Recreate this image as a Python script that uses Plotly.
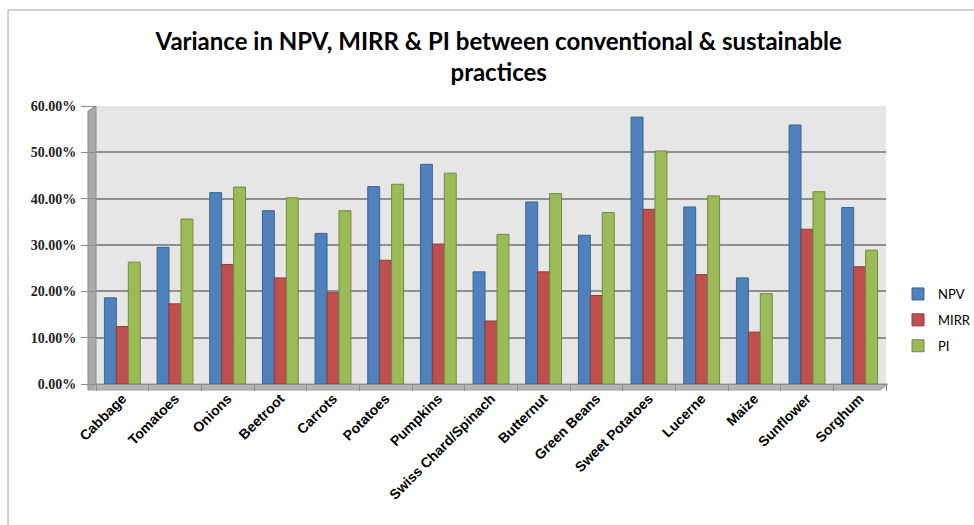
import plotly.graph_objects as go

categories = ["Cabbage", "Tomatoes", "Onions", "Beetroot", "Carrots", "Potatoes",
              "Pumpkins", "Swiss Chard/Spinach", "Butternut", "Green Beans",
              "Sweet Potatoes", "Lucerne", "Maize", "Sunflower", "Sorghum"]
npv = [0.186, 0.295, 0.413, 0.374, 0.325, 0.426, 0.474, 0.242, 0.393, 0.321,
       0.576, 0.382, 0.229, 0.559, 0.381]
mirr = [0.124, 0.173, 0.258, 0.229, 0.197, 0.267, 0.302, 0.136, 0.242, 0.191,
        0.377, 0.236, 0.112, 0.334, 0.253]
pi = [0.263, 0.356, 0.425, 0.402, 0.374, 0.431, 0.455, 0.323, 0.411, 0.370,
      0.503, 0.406, 0.195, 0.415, 0.289]
y_ticks = [0, 0.1, 0.2, 0.3, 0.4, 0.5, 0.6]
y_tick_text = ["0.00%", "10.00%", "20.00%", "30.00%", "40.00%", "50.00%", "60.00%"]

W, H = 974, 525
L, R, T, B = 96, 88, 106, 141


def xp(px):
    return (px - L) / (W - L - R)


def yp(py):
    return (H - B - py) / (H - T - B)


def poly(points):
    d = "M " + " L ".join(f"{xp(x):.5f},{yp(y):.5f}" for x, y in points) + " Z"
    return d


fig = go.Figure()
series = [("NPV", npv, "#4F81BD", "#3A6494"),
          ("MIRR", mirr, "#C0504D", "#8E3A38"),
          ("PI", pi, "#9BBB59", "#718B3F")]
for name, vals, col, lc in series:
    fig.add_trace(go.Bar(x=categories, y=vals, name=name, legendgroup=name,
                         marker=dict(color=col, line=dict(color=lc, width=1))))

shapes = [
    # chart border
    dict(type="rect", xref="paper", yref="paper", x0=xp(8), y0=yp(10), x1=xp(990), y1=yp(540),
         line=dict(color="#a6a6a6", width=1), fillcolor="rgba(0,0,0,0)", layer="below"),
    # left wall
    dict(type="path", xref="paper", yref="paper",
         path=poly([(88, 111), (96, 106), (96, 384), (88, 390)]),
         fillcolor="#a9a9a9", line=dict(color="#8c8c8c", width=1), layer="below"),
    # floor
    dict(type="path", xref="paper", yref="paper",
         path=poly([(88, 390), (96, 384), (888, 384), (880, 390)]),
         fillcolor="#b4b4b4", line=dict(color="#9a9a9a", width=1), layer="below"),
]

fig.update_layout(
    width=W, height=H,
    margin=dict(l=L, r=R, t=T, b=B, autoexpand=False),
    paper_bgcolor="white",
    plot_bgcolor="#e6e6e6",
    barmode="group", bargap=0.32, bargroupgap=0.0,
    title=dict(text="Variance in NPV, MIRR & PI between conventional & sustainable<br>practices",
               x=0.512, xanchor="center", xref="container",
               y=1 - 50 / H, yanchor="top", yref="container",
               font=dict(family="Lato", size=24, color="#000000", weight="bold")),
    xaxis=dict(tickangle=-45, tickfont=dict(family="Liberation Sans", size=14, color="#000", weight="bold"),
               showgrid=False, ticks="outside", ticklen=6, tickcolor="#8c8c8c",
               showline=True, linecolor="#8c8c8c", tickson="boundaries"),
    yaxis=dict(range=[0, 0.6], tickvals=y_ticks, ticktext=y_tick_text,
               tickfont=dict(family="Liberation Serif", size=14, color="#222", weight="bold"),
               showgrid=True, gridcolor="#8f8f8f", gridwidth=1.5,
               ticks="outside", ticklen=14, tickcolor="#8c8c8c",
               showline=False, zeroline=False, ticklabelstandoff=2),
    legend=dict(xref="container", yref="container", x=898 / W, y=1 - 320 / H,
                xanchor="left", yanchor="middle", tracegroupgap=6,
                font=dict(family="Lato", size=13, color="#000"),
                itemwidth=30),
    shapes=shapes,
    showlegend=True,
)

fig.write_html("out.html")
